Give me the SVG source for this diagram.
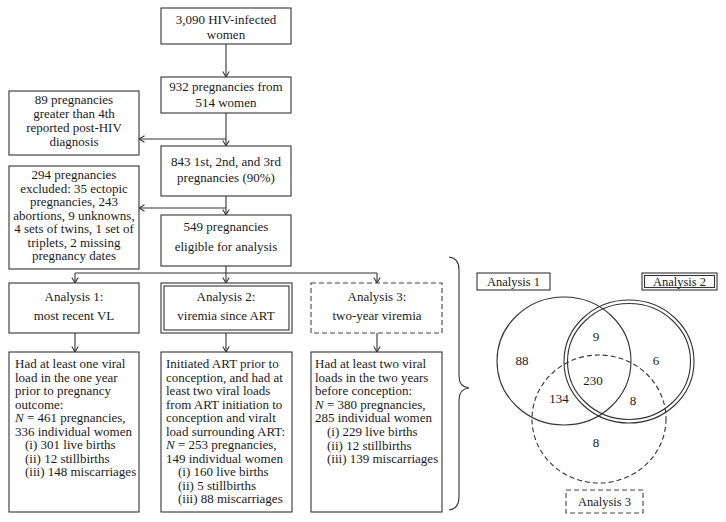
<svg xmlns="http://www.w3.org/2000/svg" width="726" height="522" viewBox="0 0 726 522">
<defs>
<style>
text{font-family:"Liberation Serif","Times New Roman",serif;font-size:13px;fill:#1a1a1a}
.c{text-anchor:middle}
.box{fill:#fff;stroke:#333;stroke-width:1.1}
.dash{fill:#fff;stroke:#444;stroke-width:1.1;stroke-dasharray:5,3}
.ln{fill:none;stroke:#333;stroke-width:1.1}
.v{font-size:13px}
.lab{font-size:12.5px}
.i{font-style:italic}
</style>
<marker id="ah" viewBox="0 0 8 8" refX="6.5" refY="4" markerWidth="8" markerHeight="8" markerUnits="userSpaceOnUse" orient="auto">
<path d="M1,0.8 L6.5,4 L1,7.2" fill="none" stroke="#333" stroke-width="1.1"/>
</marker>
</defs>
<rect width="726" height="522" fill="#fff"/>

<g id="connectors">
<path class="ln" d="M226,44 V77" marker-end="url(#ah)"/>
<path class="ln" d="M226,113 V146" marker-end="url(#ah)"/>
<path class="ln" d="M226,139 H139" marker-end="url(#ah)"/>
<path class="ln" d="M226,196 V215" marker-end="url(#ah)"/>
<path class="ln" d="M226,208 H139" marker-end="url(#ah)"/>
<path class="ln" d="M226,266 V273 M75,273 H377"/>
<path class="ln" d="M75,273 V283" marker-end="url(#ah)"/>
<path class="ln" d="M226,273 V283" marker-end="url(#ah)"/>
<path class="ln" d="M377,273 V283" marker-end="url(#ah)"/>
<path class="ln" d="M75,333 V352" marker-end="url(#ah)"/>
<path class="ln" d="M226,333 V352" marker-end="url(#ah)"/>
<path class="ln" d="M377,333 V352" marker-end="url(#ah)"/>
<path class="ln" d="M449,257 Q459,258 459,270 V376 Q459,387 469,388 Q459,389 459,400 V497 Q459,509 449,510"/>
</g>

<g id="n-women">
<rect class="box" x="161" y="8" width="130" height="36"/>
<text class="c" x="226" y="24">3,090 HIV-infected</text>
<text class="c" x="226" y="39">women</text>
</g>
<g id="n-932">
<rect class="box" x="161" y="77" width="130" height="36"/>
<text class="c" x="226" y="91">932 pregnancies from</text>
<text class="c" x="226" y="107">514 women</text>
</g>
<g id="n-89">
<rect class="box" x="9" y="91" width="130" height="64"/>
<text class="c" x="74" y="104">89 pregnancies</text>
<text class="c" x="74" y="118">greater than 4th</text>
<text class="c" x="74" y="132">reported post-HIV</text>
<text class="c" x="74" y="146">diagnosis</text>
</g>
<g id="n-843">
<rect class="box" x="161" y="146" width="130" height="50"/>
<text class="c" x="226" y="166">843 1st, 2nd, and 3rd</text>
<text class="c" x="226" y="182">pregnancies (90%)</text>
</g>
<g id="n-294">
<rect class="box" x="9" y="166" width="130" height="103"/>
<text class="c" x="74" y="179">294 pregnancies</text>
<text class="c" x="74" y="192.5">excluded: 35 ectopic</text>
<text class="c" x="74" y="206">pregnancies, 243</text>
<text class="c" x="74" y="219.5">abortions, 9 unknowns,</text>
<text class="c" x="74" y="233">4 sets of twins, 1 set of</text>
<text class="c" x="74" y="246.5">triplets, 2 missing</text>
<text class="c" x="74" y="260">pregnancy dates</text>
</g>
<g id="n-549">
<rect class="box" x="161" y="215" width="130" height="51"/>
<text class="c" x="226" y="231">549 pregnancies</text>
<text class="c" x="226" y="251">eligible for analysis</text>
</g>

<g id="n-a1">
<rect class="box" x="9" y="283" width="130" height="50"/>
<text class="c" x="74" y="301">Analysis 1:</text>
<text class="c" x="74" y="320">most recent VL</text>
</g>
<g id="n-a2">
<rect class="box" x="161" y="283" width="131" height="50"/>
<rect class="box" x="164" y="286" width="125" height="44"/>
<text class="c" x="226" y="301">Analysis 2:</text>
<text class="c" x="226" y="320">viremia since ART</text>
</g>
<g id="n-a3">
<rect class="dash" x="311" y="283" width="131" height="50"/>
<text class="c" x="377" y="301">Analysis 3:</text>
<text class="c" x="377" y="320">two-year viremia</text>
</g>

<g id="n-r1">
<rect class="box" x="9" y="352" width="130" height="160"/>
<text x="15" y="368">Had at least one viral</text>
<text x="15" y="381.5">load in the one year</text>
<text x="15" y="395">prior to pregnancy</text>
<text x="15" y="408.5">outcome:</text>
<text x="15" y="422"><tspan class="i">N</tspan> = 461 pregnancies,</text>
<text x="15" y="435.5">336 individual women</text>
<text x="25" y="449">(i) 301 live births</text>
<text x="25" y="462.5">(ii) 12 stillbirths</text>
<text x="25" y="476">(iii) 148 miscarriages</text>
</g>
<g id="n-r2">
<rect class="box" x="161" y="352" width="131" height="160"/>
<text x="166" y="368">Initiated ART prior to</text>
<text x="166" y="381.5">conception, and had at</text>
<text x="166" y="395">least two viral loads</text>
<text x="166" y="408.5">from ART initiation to</text>
<text x="166" y="422">conception and viralt</text>
<text x="166" y="435.5">load surrounding ART:</text>
<text x="166" y="449"><tspan class="i">N</tspan> = 253 pregnancies,</text>
<text x="166" y="462.5">149 individual women</text>
<text x="178" y="476">(i) 160 live births</text>
<text x="178" y="489.5">(ii) 5 stillbirths</text>
<text x="178" y="503">(iii) 88 miscarriages</text>
</g>
<g id="n-r3">
<rect class="box" x="311" y="352" width="131" height="160"/>
<text x="315" y="368">Had at least two viral</text>
<text x="315" y="381.5">loads in the two years</text>
<text x="315" y="395">before conception:</text>
<text x="315" y="408.5"><tspan class="i">N</tspan> = 380 pregnancies,</text>
<text x="315" y="422">285 individual women</text>
<text x="327" y="436">(i) 229 live births</text>
<text x="327" y="449.5">(ii) 12 stillbirths</text>
<text x="327" y="463">(iii) 139 miscarriages</text>
</g>

<g id="venn">
<ellipse class="ln" cx="564" cy="361" rx="67" ry="64"/>
<ellipse class="ln" cx="629" cy="361.5" rx="65" ry="61.5"/>
<ellipse class="ln" cx="629" cy="361.5" rx="61.5" ry="58"/>
<ellipse class="ln" cx="599" cy="419" rx="67" ry="64" stroke-dasharray="5,3"/>
<text class="c v" x="522" y="365">88</text>
<text class="c v" x="596" y="341">9</text>
<text class="c v" x="656" y="365">6</text>
<text class="c v" x="593" y="385">230</text>
<text class="c v" x="559" y="403">134</text>
<text class="c v" x="633" y="405">8</text>
<text class="c v" x="596" y="447">8</text>
</g>
<g id="venn-l1">
<rect class="box" x="477" y="273" width="73" height="17"/>
<text class="c lab" x="513.5" y="286">Analysis 1</text>
</g>
<g id="venn-l2">
<rect class="box" x="642" y="273" width="75" height="17"/>
<rect class="box" x="644.5" y="275.5" width="70" height="12"/>
<text class="c lab" x="679.5" y="286">Analysis 2</text>
</g>
<g id="venn-l3">
<rect class="dash" x="566" y="490" width="77" height="23"/>
<text class="c lab" x="604.5" y="506">Analysis 3</text>
</g>
</svg>
